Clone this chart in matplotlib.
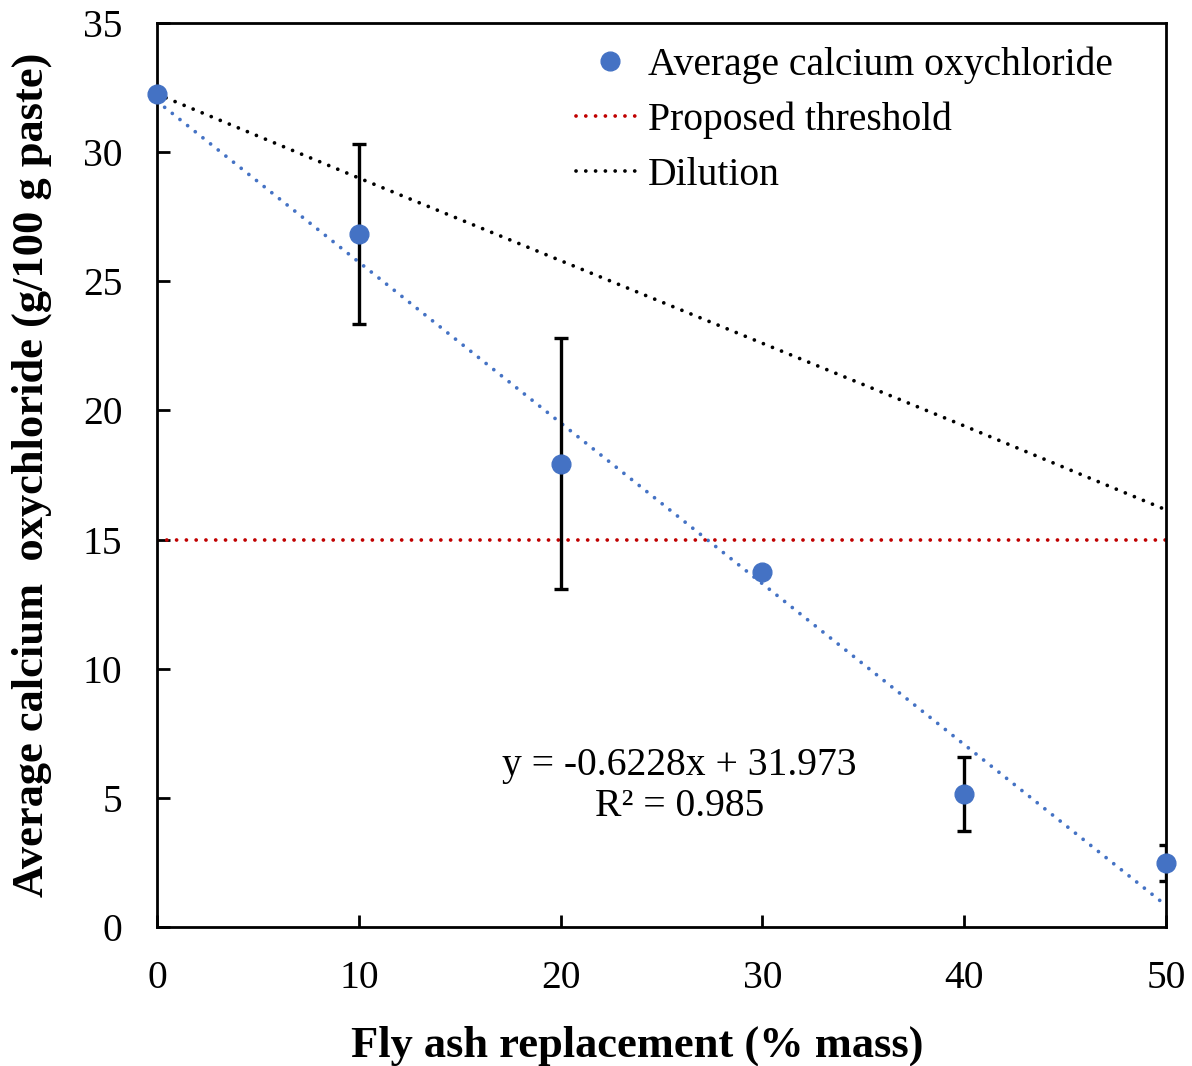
import numpy as np
import matplotlib.pyplot as plt

plt.rcParams['font.family'] = ['Liberation Serif', 'DejaVu Serif']

# data
fly_ash = [0, 10, 20, 30, 40, 50]
avg_oxy = [32.25, 26.83, 17.93, 13.74, 5.15, 2.48]
err_oxy = [0.0, 3.5, 4.86, 0.0, 1.45, 0.7]
dilution = [32.25, 29.0, 25.8, 22.6, 19.4, 16.15]
threshold = 15
slope, intercept = -0.6228, 31.973
r2 = 0.985

blue = '#4472C4'
dots = (0, (0.01, 2.6))

fig = plt.figure(figsize=(11.92, 10.66), dpi=100)
ax = fig.add_axes([0.1317, 0.1304, 0.8466, 0.848])

xfit = np.array([fly_ash[0], fly_ash[-1]])
ax.plot(xfit, slope * xfit + intercept, color=blue, lw=2.7, ls=dots,
        dash_capstyle='round', zorder=2)
ax.plot(fly_ash, dilution, color='black', lw=2.7, ls=dots,
        dash_capstyle='round', label='Dilution', zorder=2)
ax.axhline(threshold, color='#C00000', lw=2.7, ls=dots,
           dash_capstyle='round', label='Proposed threshold', zorder=2)
ax.errorbar(fly_ash, avg_oxy, yerr=err_oxy, fmt='none', ecolor='black',
            elinewidth=2.4, capsize=5, capthick=2.4, zorder=3)
ax.plot(fly_ash, avg_oxy, 'o', color=blue, ms=13.5, ls='none',
        label='Average calcium oxychloride', zorder=4, clip_on=False)

ax.text(25.9, 5.45, 'y = %.4fx + %.3f\nR² = %.3f' % (slope, intercept, r2),
        ha='center', va='center', fontsize=28.5, linespacing=1.15)

ax.set_xlim(0, 50)
ax.set_ylim(0, 35)
ax.set_xticks(range(0, 51, 10))
ax.set_yticks(range(0, 36, 5))
ax.tick_params(direction='in', length=9, width=2, labelsize=28.5)
ax.tick_params(axis='x', pad=24)
ax.tick_params(axis='y', pad=25)
for s in ax.spines.values():
    s.set_linewidth(2)

ax.set_xlabel('Fly ash replacement (% mass)', fontsize=32, fontweight='bold',
              labelpad=20, x=0.476)
ax.set_ylabel('Average calcium  oxychloride (g/100 g paste)', fontsize=32,
              fontweight='bold', labelpad=22)

h, l = ax.get_legend_handles_labels()
order = [2, 1, 0]
ax.legend([h[i] for i in order], [l[i] for i in order], loc='upper right',
          bbox_to_anchor=(1 - 26 / 1008, 1 + 4 / 904),
          frameon=False, fontsize=28.5, handlelength=1.7, handletextpad=0.1,
          labelspacing=0.44, borderaxespad=0.3)

fig.savefig('out.png', dpi=100)
